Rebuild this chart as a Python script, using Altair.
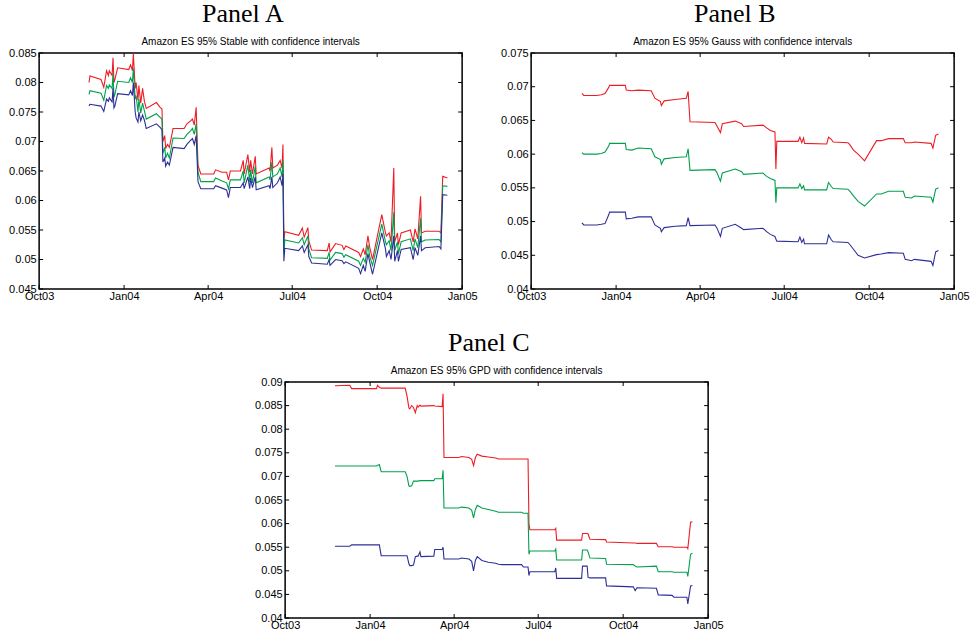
import altair as alt
import pandas as pd

# ---------------- data ----------------
# day offsets are counted from 2003-10-01
A_DAYS = [54, 55, 67, 70, 73, 75, 76, 79, 80, 81,
          82, 85, 97, 99, 101, 102, 104, 105, 107, 108,
          110, 112, 114, 116, 127, 131, 133, 134, 136, 137,
          139, 141, 145, 157, 160, 164, 166, 168, 170, 172,
          175, 189, 191, 198, 203, 205, 207, 218, 221, 222,
          226, 228, 229, 231, 234, 235, 249, 250, 252, 253,
          258, 261, 263, 264, 265, 266, 281, 285, 287, 291,
          292, 295, 312, 314, 315, 321, 328, 330, 332, 346,
          348, 351, 353, 356, 358, 361, 371, 375, 376, 379,
          381, 384, 385, 388, 389, 392, 402, 405, 407, 410,
          413, 414, 418, 433, 435, 437, 442]
A_RED = [.0800, .0811, .0805, .0792, .0820, .0812, .0820, .0812, .0842, .0800,
         .0805, .0825, .0822, .0830, .0820, .0849, .0790, .0800, .0770, .0795,
         .0765, .0790, .0768, .0756, .0766, .0758, .0755, .0700, .0710, .0688,
         .0695, .0690, .0722, .0722, .0730, .0735, .0738, .0728, .0758, .0660,
         .0645, .0645, .0652, .0648, .0648, .0635, .0650, .0650, .0668, .0645,
         .0678, .0648, .0668, .0645, .0675, .0645, .0655, .0650, .0690, .0655,
         .0660, .0668, .0655, .0695, .0530, .0547, .0541, .0553, .0538, .0554,
         .0532, .0516, .0515, .0528, .0513, .0527, .0524, .0517, .0523, .0512,
         .0505, .0518, .0508, .0540, .0520, .0500, .0576, .0545, .0540, .0545,
         .0530, .0655, .0530, .0545, .0525, .0545, .0550, .0530, .0552, .0535,
         .0607, .0545, .0548, .0548, .0545, .0641, .0638]
A_GREEN = [.0780, .0786, .0782, .0770, .0795, .0790, .0796, .0790, .0815, .0775,
           .0780, .0802, .0800, .0808, .0800, .0824, .0772, .0778, .0750, .0772,
           .0748, .0765, .0752, .0738, .0747, .0741, .0738, .0680, .0690, .0672,
           .0680, .0672, .0706, .0705, .0712, .0718, .0722, .0712, .0730, .0648,
           .0632, .0632, .0638, .0633, .0630, .0620, .0635, .0635, .0650, .0630,
           .0660, .0632, .0652, .0630, .0658, .0630, .0640, .0635, .0665, .0640,
           .0645, .0655, .0640, .0668, .0510, .0533, .0528, .0537, .0525, .0540,
           .0518, .0503, .0502, .0512, .0499, .0512, .0510, .0504, .0508, .0497,
           .0490, .0502, .0495, .0525, .0505, .0490, .0560, .0530, .0525, .0532,
           .0515, .0580, .0515, .0530, .0510, .0530, .0535, .0515, .0535, .0520,
           .0570, .0530, .0533, .0534, .0530, .0625, .0624]
A_BLUE = [.0760, .0763, .0760, .0751, .0772, .0768, .0774, .0767, .0790, .0757,
          .0760, .0781, .0779, .0786, .0778, .0800, .0750, .0740, .0733, .0750,
          .0735, .0745, .0736, .0722, .0730, .0724, .0720, .0665, .0672, .0658,
          .0665, .0660, .0690, .0688, .0695, .0702, .0705, .0695, .0710, .0632,
          .0620, .0620, .0625, .0621, .0618, .0605, .0622, .0622, .0630, .0620,
          .0640, .0620, .0638, .0622, .0640, .0618, .0625, .0620, .0640, .0622,
          .0630, .0640, .0625, .0645, .0497, .0519, .0515, .0523, .0512, .0525,
          .0505, .0494, .0492, .0500, .0490, .0500, .0498, .0493, .0496, .0485,
          .0476, .0490, .0480, .0510, .0495, .0475, .0545, .0518, .0505, .0515,
          .0500, .0540, .0497, .0515, .0497, .0517, .0520, .0500, .0520, .0507,
          .0540, .0515, .0520, .0522, .0518, .0610, .0609]

B_DAYS = [55, 57, 71, 76, 80, 84, 85, 102, 103, 109,
          116, 130, 134, 140, 141, 144, 156, 168, 170, 172,
          199, 201, 205, 207, 221, 228, 230, 251, 255, 259,
          264, 265, 266, 289, 291, 293, 295, 296, 320, 322,
          325, 327, 343, 345, 349, 354, 361, 374, 379, 387,
          403, 405, 412, 415, 433, 435, 438, 441]
B_RED = [.0690, .0687, .0687, .0688, .0690, .0699, .0702, .0702, .0695, .0694,
         .0695, .0694, .0683, .0678, .0672, .0679, .0681, .0683, .0693, .0648,
         .0647, .0642, .0632, .0645, .0649, .0645, .0641, .0643, .0639, .0635,
         .0633, .0578, .0619, .0619, .0625, .0617, .0624, .0616, .0615, .0625,
         .0622, .0618, .0617, .0614, .0606, .0600, .0590, .0620, .0620, .0623,
         .0623, .0617, .0617, .0618, .0616, .0609, .0628, .0630]
B_GREEN = [.0602, .0600, .0600, .0601, .0603, .0612, .0616, .0616, .0607, .0606,
           .0609, .0608, .0596, .0592, .0585, .0593, .0595, .0596, .0608, .0576,
           .0577, .0573, .0560, .0572, .0578, .0574, .0570, .0572, .0567, .0564,
           .0561, .0528, .0550, .0550, .0556, .0549, .0553, .0547, .0547, .0558,
           .0552, .0549, .0548, .0545, .0538, .0530, .0523, .0541, .0541, .0545,
           .0545, .0536, .0535, .0538, .0536, .0529, .0548, .0550]
B_BLUE = [.0498, .0495, .0495, .0496, .0497, .0510, .0514, .0514, .0504, .0505,
          .0507, .0507, .0495, .0490, .0485, .0491, .0493, .0494, .0506, .0494,
          .0495, .0491, .0478, .0490, .0496, .0490, .0488, .0490, .0485, .0481,
          .0478, .0474, .0471, .0470, .0477, .0469, .0474, .0467, .0467, .0480,
          .0473, .0470, .0469, .0466, .0459, .0450, .0446, .0451, .0452, .0454,
          .0453, .0444, .0442, .0444, .0441, .0435, .0455, .0457]

C_DAYS = [54, 70, 72, 99, 100, 102, 104, 130, 132, 134,
          135, 137, 139, 141, 143, 144, 146, 147, 161, 162,
          170, 171, 172, 188, 191, 199, 202, 204, 206, 208,
          213, 220, 228, 231, 235, 256, 258, 263, 264, 265,
          292, 293, 294, 321, 322, 327, 328, 330, 347, 348,
          377, 379, 381, 402, 404, 419, 421, 435, 436, 439,
          441]
C_RED = [.0892, .0893, .0886, .0886, .0893, .0889, .0887, .0887, .0870, .0845,
         .0843, .0850, .0846, .0835, .0850, .0847, .0851, .0849, .0850, .0849,
         .0848, .0875, .0740, .0740, .0742, .0740, .0736, .0723, .0740, .0747,
         .0743, .0741, .0739, .0737, .0737, .0737, .0737, .0737, .0600, .0587,
         .0587, .0590, .0565, .0565, .0579, .0579, .0578, .0567, .0566, .0561,
         .0559, .0559, .0558, .0558, .0551, .0551, .0550, .0550, .0547, .0603,
         .0604]
C_GREEN = [.0722, .0722, .0722, .0722, .0723, .0725, .0710, .0710, .0700, .0680,
           .0679, .0680, .0690, .0690, .0690, .0690, .0691, .0691, .0691, .0695,
           .0695, .0713, .0633, .0633, .0635, .0633, .0628, .0612, .0630, .0639,
           .0633, .0630, .0626, .0624, .0624, .0624, .0622, .0622, .0535, .0542,
           .0542, .0546, .0523, .0523, .0544, .0544, .0540, .0527, .0526, .0514,
           .0513, .0510, .0508, .0510, .0498, .0498, .0497, .0497, .0488, .0535,
           .0537]
C_BLUE = [.0552, .0552, .0555, .0555, .0555, .0555, .0532, .0532, .0532, .0515,
          .0511, .0511, .0512, .0530, .0531, .0531, .0540, .0530, .0531, .0545,
          .0545, .0550, .0525, .0525, .0527, .0525, .0520, .0500, .0522, .0530,
          .0522, .0518, .0516, .0514, .0513, .0513, .0508, .0508, .0490, .0498,
          .0498, .0506, .0484, .0484, .0510, .0510, .0486, .0485, .0485, .0468,
          .0466, .0458, .0464, .0463, .0449, .0448, .0444, .0444, .0430, .0468,
          .0469]

A_YTICKS = [0.045, 0.05, 0.055, 0.06, 0.065, 0.07, 0.075, 0.08, 0.085]
B_YTICKS = [0.04, 0.045, 0.05, 0.055, 0.06, 0.065, 0.07, 0.075]
C_YTICKS = [0.04, 0.045, 0.05, 0.055, 0.06, 0.065, 0.07, 0.075, 0.08, 0.085, 0.09]
X_TICKS = [(2003, 10), (2004, 1), (2004, 4), (2004, 7), (2004, 10), (2005, 1)]

TITLES = ["Panel A", "Panel B", "Panel C"]
SUBTITLES = ["Amazon ES 95% Stable with confidence intervals",
             "Amazon ES 95% Gauss with confidence intervals",
             "Amazon ES 95% GPD with confidence intervals"]
SERIES = ["upper", "es", "lower"]
COLORS = ["#ee1c24", "#00a04c", "#2c2f96"]

# ---------------- chart ----------------
W, H = 423, 236
START = pd.Timestamp("2003-10-01")


def to_dates(days):
    return [(START + pd.Timedelta(days=d)).strftime("%Y-%m-%dT00:00:00") for d in days]


x_dt = [alt.DateTime(year=y, month=m, date=1) for y, m in X_TICKS]
x_tick_strings = ["%04d-%02d-01T00:00:00" % (y, m) for y, m in X_TICKS]

X_ENC = alt.X(
    "date:T",
    title=None,
    scale=alt.Scale(domain=[x_dt[0], x_dt[-1]]),
    axis=alt.Axis(values=x_dt, format="%b%y", ticks=False, domain=False, grid=False,
                  labelOverlap=False, labelPadding=1, labelFlush=False),
)


def y_enc(ticks):
    return alt.Y(
        "value:Q",
        title=None,
        scale=alt.Scale(domain=[ticks[0], ticks[-1]], nice=False, zero=False),
        axis=alt.Axis(values=ticks, format=".3~f", ticks=False, domain=False, grid=False,
                      labelOverlap=False, labelPadding=3, minExtent=30, maxExtent=30),
    )


def panel(days, red, green, blue, ticks, title, subtitle):
    n = len(days)
    dates = to_dates(days)
    df = pd.DataFrame({
        "date": dates * 3,
        "value": list(red) + list(green) + list(blue),
        "series": [SERIES[0]] * n + [SERIES[1]] * n + [SERIES[2]] * n,
    })
    Y_ENC = y_enc(ticks)
    lines = alt.Chart(df).mark_line(strokeWidth=1.1, clip=True).encode(
        x=X_ENC, y=Y_ENC,
        color=alt.Color("series:N", scale=alt.Scale(domain=SERIES, range=COLORS), legend=None),
    )
    yt = pd.DataFrame({"value": ticks})
    xt = pd.DataFrame({"date": x_tick_strings})
    tick_l = alt.Chart(yt).mark_rule(color="black", strokeWidth=1).encode(
        y=Y_ENC, x=alt.value(0), x2=alt.value(4))
    tick_r = alt.Chart(yt).mark_rule(color="black", strokeWidth=1).encode(
        y=Y_ENC, x=alt.value(W - 4), x2=alt.value(W))
    tick_b = alt.Chart(xt).mark_rule(color="black", strokeWidth=1).encode(
        x=X_ENC, y=alt.value(H - 4), y2=alt.value(H))
    tick_t = alt.Chart(xt).mark_rule(color="black", strokeWidth=1).encode(
        x=X_ENC, y=alt.value(0), y2=alt.value(4))
    sub = alt.Chart(pd.DataFrame({"t": [subtitle]})).mark_text(
        font="Liberation Sans", fontSize=10, color="black", align="center",
        baseline="alphabetic").encode(text="t:N", x=alt.value(W / 2), y=alt.value(-8))
    return alt.layer(lines, tick_l, tick_r, tick_b, tick_t, sub).properties(
        width=W, height=H,
        title=alt.TitleParams(text=title, font="Liberation Serif", fontSize=26,
                              fontWeight="normal", color="black", anchor="middle",
                              frame="bounds", offset=10),
    )


pa = panel(A_DAYS, A_RED, A_GREEN, A_BLUE, A_YTICKS, TITLES[0], SUBTITLES[0])
pb = panel(B_DAYS, B_RED, B_GREEN, B_BLUE, B_YTICKS, TITLES[1], SUBTITLES[1])
pc = panel(C_DAYS, C_RED, C_GREEN, C_BLUE, C_YTICKS, TITLES[2], SUBTITLES[2])

top = alt.hconcat(pa, pb, spacing=21)
chart = alt.vconcat(top, pc, spacing=27, center=True).properties(
    padding={"left": 7, "top": 0, "right": 0, "bottom": 0},
    background="white",
).configure_view(
    stroke="black", strokeWidth=1.5
).configure_axis(
    labelFont="Liberation Sans", labelFontSize=11, labelColor="black"
)

chart.save("out.html", embed_options={"renderer": "svg", "actions": False})
